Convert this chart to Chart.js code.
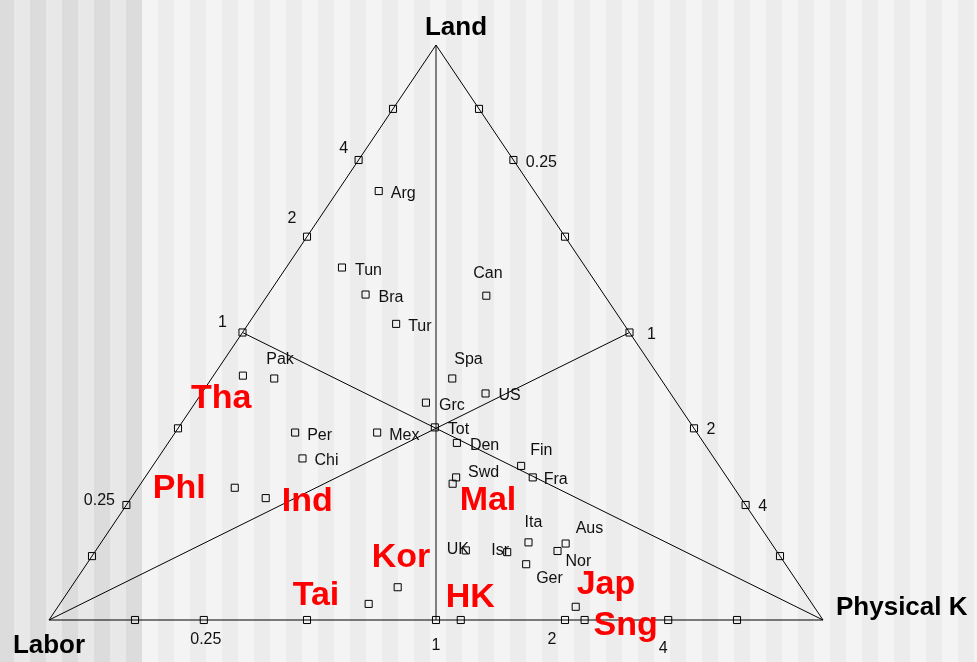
<!DOCTYPE html>
<html>
<head>
<meta charset="utf-8">
<title>Factor endowment triangle</title>
<script src="https://cdn.jsdelivr.net/npm/chart.js@4.4.0/dist/chart.umd.min.js"></script>
<style>
  html, body { margin: 0; padding: 0; background: #f4f4f4; }
  #box { width: 977px; height: 662px; }
</style>
</head>
<body>
<div id="box"><canvas id="grafico" width="977" height="662"></canvas></div>
<script>
// countries and their shares of labor, physical capital and land
const countries = ['Arg','Tun','Bra','Tur','Can','Pak','Tha','Per','Mex','Chi','Phl','Ind','Grc','Tot','Spa','US',
                   'Den','Swd','Mal','Fin','Fra','Ita','Aus','Nor','UK','Isr','Ger','Kor','Tai','HK','Jap','Sng'];
const labor   = [0.201,0.315,0.308,0.294,0.153,0.499,0.537,0.519,0.413,0.532,0.645,0.614,0.324,0.334,0.269,0.239,
                 0.319,0.350,0.360,0.256,0.251,0.313,0.266,0.283,0.401,0.349,0.335,0.521,0.573,0.468,0.308,0.308];
const capital = [0.053,0.072,0.126,0.191,0.283,0.081,0.038,0.155,0.261,0.187,0.125,0.174,0.298,0.331,0.311,0.367,
                 0.373,0.402,0.403,0.476,0.501,0.552,0.601,0.597,0.478,0.533,0.568,0.422,0.399,0.532,0.669,0.692];
const land    = [0.746,0.613,0.566,0.515,0.564,0.420,0.425,0.326,0.326,0.281,0.230,0.212,0.378,0.335,0.420,0.394,
                 0.308,0.248,0.237,0.268,0.248,0.135,0.133,0.120,0.121,0.118,0.097,0.057,0.028,0.000,0.023,0.000];
const highlighted = ['Tha','Phl','Ind','Mal','Kor','Tai','HK','Jap','Sng'];

// ratio marks on each side of the triangle, and the ones that get a label
const tickRatios = [0.125, 0.25, 0.5, 1, 2, 4, 8];
const tickLabels = [0.25, 1, 2, 4];
const vertexNames = ['Labor', 'Physical K', 'Land'];

// label offsets in pixels from the mark to the text baseline (style only)
const labelNudge = {
    Arg:[12,7], Tun:[13,7], Bra:[13,7], Tur:[12,7], Can:[-13,-18], Pak:[-8,-15], Tha:[-52,32], Per:[12,7],
    Mex:[12,7], Chi:[12,7], Phl:[-82,10], Ind:[16,13], Grc:[13,7], Tot:[13,7], Spa:[2,-15], US:[13,7],
    Den:[13,7], Swd:[12,0], Mal:[7,26], Fin:[9,-11], Fra:[11,7], Ita:[-4,-15], Aus:[10,-11], Nor:[8,15],
    UK:[-19,4], Isr:[-16,3], Ger:[10,19], Kor:[-26,-20], Tai:[-76,1], HK:[-15,-13], Jap:[1,-13], Sng:[9,15]
};
const tickNudge = {
    left:   {0.25:[-27,0], 1:[-20,-6], 2:[-15,-14], 4:[-15,-7]},
    right:  {0.25:[28,7],  1:[22,6],   2:[17,6],    4:[17,6]},
    bottom: {0.25:[2,24],  1:[0,30],   2:[-13,24],  4:[-5,33]}
};

// ternary shares -> plane (Labor at 0,0 / Physical K at 1,0 / Land at 0.5,1)
const toXY = (l, k, a) => {
    const s = l + k + a;
    return { x: (k + a / 2) / s, y: a / s };
};

const countryPoints = countries.map((c, i) => toXY(labor[i], capital[i], land[i]));

// marks: left side Land/Labor, right side K/Land, bottom K/Labor
const sidePoint = (side, r) => {
    if (side === 'left') return toXY(1, 0, r);
    if (side === 'right') return toXY(0, r, 1);
    return toXY(1, r, 0);
};
const tickPoints = [];
['left', 'right', 'bottom'].forEach(side => {
    tickRatios.forEach(r => tickPoints.push(sidePoint(side, r)));
});

const vL = toXY(1, 0, 0), vK = toXY(0, 1, 0), vA = toXY(0, 0, 1);

// striped background
const stripes = {
    id: 'stripes',
    beforeDraw: chart => {
        const c = chart.ctx;
        c.save();
        for (let i = 0; -2 + 16 * i < chart.width; i++) {
            const x0 = -2 + 16 * i;
            if (x0 + 16 <= 142) c.fillStyle = i % 2 === 0 ? '#dcdcdc' : '#e8e8e8';
            else c.fillStyle = i % 2 === 1 ? '#f4f4f4' : '#ececec';
            c.fillRect(x0, 0, 16, chart.height);
        }
        c.restore();
    }
};

// country names, tick labels and corner names
const labels = {
    id: 'labels',
    afterDatasetsDraw: chart => {
        const c = chart.ctx;
        const sx = chart.scales.x, sy = chart.scales.y;
        const px = p => [sx.getPixelForValue(p.x), sy.getPixelForValue(p.y)];
        c.save();
        c.textBaseline = 'alphabetic';

        countries.forEach((name, i) => {
            const [x, y] = px(countryPoints[i]);
            const n = labelNudge[name] || [12, 7];
            if (highlighted.includes(name)) {
                c.font = 'bold 34px "Liberation Sans", Arial, sans-serif';
                c.fillStyle = '#ff0000';
            } else {
                c.font = '16px "Liberation Sans", Arial, sans-serif';
                c.fillStyle = '#111111';
            }
            c.textAlign = 'left';
            c.fillText(name, x + n[0], y + n[1]);
        });

        c.font = '16px "Liberation Sans", Arial, sans-serif';
        c.fillStyle = '#111111';
        c.textAlign = 'center';
        ['left', 'right', 'bottom'].forEach(side => {
            tickLabels.forEach(r => {
                const [x, y] = px(sidePoint(side, r));
                const n = tickNudge[side][r];
                c.fillText(String(r), x + n[0], y + n[1]);
            });
        });

        c.font = 'bold 26px "Liberation Sans", Arial, sans-serif';
        c.fillStyle = '#000000';
        let [x, y] = px(vL);
        c.textAlign = 'center';
        c.fillText(vertexNames[0], x, y + 33);
        [x, y] = px(vA);
        c.fillText(vertexNames[2], x + 20, y - 10);
        [x, y] = px(vK);
        c.textAlign = 'left';
        c.fillText(vertexNames[1], x + 13, y - 5);
        c.restore();
    }
};

const ctx = document.getElementById('grafico');
const grafico = new Chart(ctx, {
    type: 'scatter',
    data: {
        datasets: [
            {
                label: 'countries',
                data: countryPoints,
                pointStyle: 'rect',
                pointRadius: 5,
                borderColor: '#000',
                borderWidth: 1,
                backgroundColor: 'rgba(0,0,0,0)',
                clip: false
            },
            {
                label: 'ticks',
                data: tickPoints,
                pointStyle: 'rect',
                pointRadius: 5,
                borderColor: '#000',
                borderWidth: 1,
                backgroundColor: 'rgba(0,0,0,0)',
                clip: false
            },
            {
                label: 'triangle',
                data: [vL, vK, vA, vL],
                showLine: true,
                borderColor: '#000',
                borderWidth: 1,
                pointRadius: 0,
                clip: false
            },
            {
                label: 'from labor',
                data: [vL, toXY(0, 1, 1)],
                showLine: true,
                borderColor: '#000',
                borderWidth: 1,
                pointRadius: 0,
                clip: false
            },
            {
                label: 'from capital',
                data: [vK, toXY(1, 0, 1)],
                showLine: true,
                borderColor: '#000',
                borderWidth: 1,
                pointRadius: 0,
                clip: false
            },
            {
                label: 'from land',
                data: [vA, toXY(1, 1, 0)],
                showLine: true,
                borderColor: '#7f7f7f',
                borderWidth: 2,
                pointRadius: 0,
                clip: false
            }
        ]
    },
    options: {
        responsive: false,
        animation: false,
        events: [],
        layout: {
            padding: { left: 49, right: 154, top: 45, bottom: 42 }
        },
        plugins: {
            legend: { display: false },
            tooltip: { enabled: false }
        },
        scales: {
            x: { type: 'linear', min: 0, max: 1, display: false },
            y: { type: 'linear', min: 0, max: 1, display: false }
        }
    },
    plugins: [stripes, labels]
}); // end chart
</script>
</body>
</html>
